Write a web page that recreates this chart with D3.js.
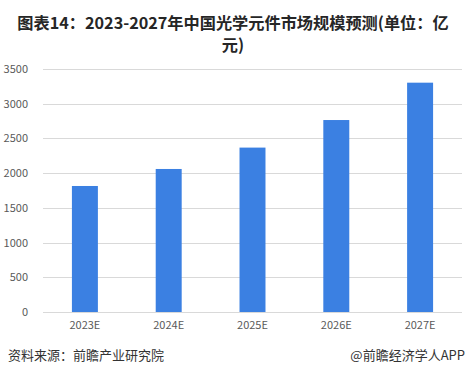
<!DOCTYPE html>
<html lang="zh">

<head>
    <meta charset="UTF-8">
    <title>光学元件市场规模</title>
    <style>
        body {
            margin: 0;
            background: #fff;
        }

        svg text {
            font-family: "Noto Sans CJK SC", "Microsoft YaHei", sans-serif;
        }

        .grid line {
            stroke: #d9d9d9;
            stroke-width: 1px;
        }
    </style>
</head>

<body>
    <div class="chart"></div>

    <script src="https://d3js.org/d3.v7.min.js"></script>
    <script>
        // Data
        const years = ["2023E", "2024E", "2025E", "2026E", "2027E"];
        const marketSize = [1815, 2060, 2368, 2765, 3303];
        const yTicks = [0, 500, 1000, 1500, 2000, 2500, 3000, 3500];

        const width = 467;
        const height = 375;
        const plot = { left: 43, right: 462, top: 69, bottom: 312 };

        const svg = d3.select(".chart").append("svg")
            .attr("width", width)
            .attr("height", height);

        // Title (two lines, wrapped like the original)
        const title = svg.append("text")
            .attr("text-anchor", "middle")
            .attr("font-size", 16.2)
            .attr("font-weight", "bold")
            .attr("fill", "#262626");
        title.append("tspan").attr("x", 233).attr("y", 29)
            .text("图表14：2023-2027年中国光学元件市场规模预测(单位：亿");
        title.append("tspan").attr("x", 233).attr("y", 51)
            .text("元)");

        const x = d3.scaleBand()
            .domain(years)
            .range([plot.left, plot.right])
            .paddingInner(0.69)
            .paddingOuter(0.345);

        const y = d3.scaleLinear()
            .domain([0, 3500])
            .range([plot.bottom, plot.top]);

        // Gridlines
        svg.append("g")
            .attr("class", "grid")
            .selectAll("line")
            .data(yTicks)
            .join("line")
            .attr("x1", plot.left)
            .attr("x2", plot.right)
            .attr("y1", d => Math.round(y(d)) + 0.5)
            .attr("y2", d => Math.round(y(d)) + 0.5);

        // Y axis labels
        const yAxis = svg.append("g")
            .attr("transform", `translate(${plot.left - 15},0)`)
            .call(d3.axisLeft(y).tickValues(yTicks).tickFormat(d3.format("d")).tickSize(0).tickPadding(0));
        yAxis.select(".domain").remove();
        yAxis.selectAll("text")
            .attr("font-size", 11)
            .attr("fill", "#595959")
            .style("font-family", "'Noto Sans CJK SC', sans-serif");

        // Bars
        svg.append("g")
            .selectAll("rect")
            .data(marketSize)
            .join("rect")
            .attr("x", (d, i) => x(years[i]))
            .attr("width", x.bandwidth())
            .attr("y", d => y(d))
            .attr("height", d => y(0) - y(d))
            .attr("fill", "#3b80e2");

        // X axis labels
        const xAxis = svg.append("g")
            .attr("transform", `translate(0,${plot.bottom + 9})`)
            .call(d3.axisBottom(x).tickSize(0).tickPadding(0));
        xAxis.select(".domain").remove();
        xAxis.selectAll("text")
            .attr("font-size", 11)
            .attr("fill", "#595959")
            .style("font-family", "'Noto Sans CJK SC', sans-serif");

        // Footer
        svg.append("text")
            .attr("x", 8)
            .attr("y", 360)
            .attr("font-size", 13)
            .attr("fill", "#333")
            .text("资料来源：前瞻产业研究院");

        svg.append("text")
            .attr("x", 465)
            .attr("y", 360)
            .attr("text-anchor", "end")
            .attr("font-size", 13)
            .attr("fill", "#333")
            .text("@前瞻经济学人APP");
    </script>
</body>

</html>
